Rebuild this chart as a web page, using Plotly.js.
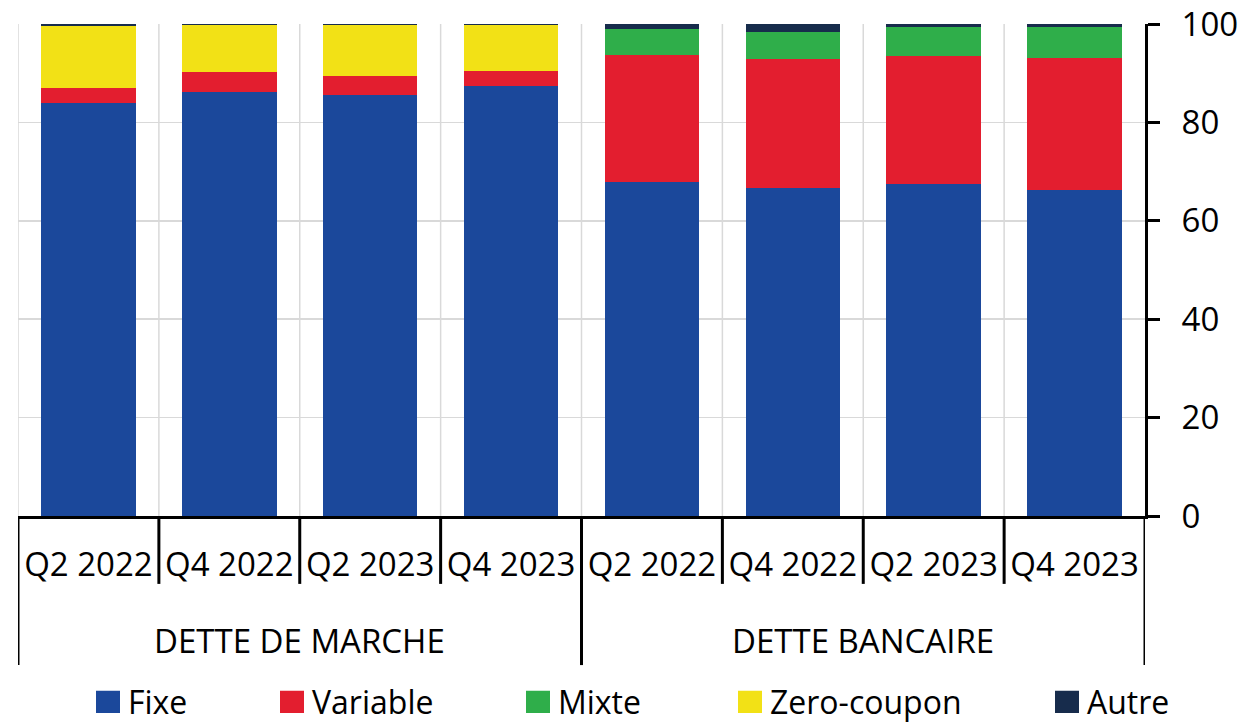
<!DOCTYPE html>
<html><head><meta charset="utf-8">
<script src="https://cdn.plot.ly/plotly-3.0.1.min.js"></script>
<style>
html,body{margin:0;padding:0;background:#fff;}
#chart{width:1241px;height:722px;}
</style>
</head><body><div id="chart"></div>
<script>
// ---- data ----
const quarters = ["Q2 2022", "Q4 2022", "Q2 2023", "Q4 2023"];
const groups = ["DETTE DE MARCHE", "DETTE BANCAIRE"];
const seriesNames = ["Fixe", "Variable", "Mixte", "Zero-coupon", "Autre"];
const fixe       = [83.9, 86.2, 85.5, 87.4, 67.9, 66.7, 67.4, 66.2];
const variable   = [3.0, 4.0, 3.9, 3.1, 25.7, 26.2, 26.0, 26.8];
const mixte      = [0, 0, 0, 0, 5.3, 5.5, 6.0, 6.3];
const zeroCoupon = [12.6, 9.5, 10.3, 9.2, 0, 0, 0, 0];
const autre      = [0.5, 0.3, 0.3, 0.3, 1.1, 1.6, 0.6, 0.7];
const yTicks = [0, 20, 40, 60, 80, 100];

// ---- styling ----
const colors = ["#1b489b", "#e31e2f", "#2fae4a", "#f2e116", "#172c4c"];
const FONT = "Open Sans, Noto Sans, sans-serif";
const FS = 33;

const nQ = quarters.length;
const xIdx = fixe.map((_, i) => i);
const tickText = groups.flatMap(() => quarters);
const seriesValues = [fixe, variable, mixte, zeroCoupon, autre];
const legendX = [88, 272, 518, 730, 1047];

const traces = seriesValues.map((vals, k) => ({
  type: "bar",
  name: seriesNames[k],
  x: xIdx,
  y: vals,
  width: 0.67,
  marker: {color: colors[k], line: {width: 0}},
  legend: k === 0 ? "legend" : "legend" + (k + 1),
  hoverinfo: "skip"
}));

const shapes = [];
for (let b = 0; b < xIdx.length; b++) {
  shapes.push({type: "line", layer: "below", xref: "x", yref: "paper",
    x0: b - 0.5, x1: b - 0.5, y0: 0, y1: 1, line: {color: "#d9d9d9", width: 1.5}});
}
for (let b = 0; b <= xIdx.length; b++) {
  const isGroup = b % nQ === 0;
  shapes.push({type: "line", layer: "above", xref: "x", yref: "paper",
    x0: b - 0.5, x1: b - 0.5, y0: 0, y1: isGroup ? -0.303 : -0.138,
    line: {color: "#000", width: 3}});
}

const annotations = groups.map((g, gi) => ({
  text: g, xref: "x", yref: "paper", x: gi * nQ + (nQ - 1) / 2, y: -0.254,
  yanchor: "middle", xanchor: "center", showarrow: false,
  font: {family: FONT, size: FS, color: "#000"}
}));

const layout = {
  width: 1241, height: 722,
  margin: {l: 18, r: 96, t: 24, b: 206},
  paper_bgcolor: "#fff", plot_bgcolor: "#fff",
  barmode: "stack", bargap: 0.33,
  font: {family: FONT, size: FS, color: "#000"},
  xaxis: {
    range: [-0.5, xIdx.length - 0.5], tickmode: "array", tickvals: xIdx, ticktext: tickText,
    showgrid: false, zeroline: false, showline: true, linecolor: "#000", linewidth: 3,
    ticks: "", ticklabelstandoff: 17, tickangle: 0,
    tickfont: {family: FONT, size: FS, color: "#000"}, fixedrange: true
  },
  yaxis: {
    side: "right", range: [0, 100], tickmode: "array", tickvals: yTicks,
    showgrid: true, gridcolor: "#d9d9d9", gridwidth: 1.5, zeroline: false,
    showline: true, linecolor: "#000", linewidth: 3,
    ticks: "outside", ticklen: 12, tickwidth: 3, tickcolor: "#000",
    ticklabelstandoff: 15,
    tickfont: {family: FONT, size: FS, color: "#000"}, fixedrange: true
  },
  shapes: shapes,
  annotations: annotations,
  showlegend: true
};
seriesNames.forEach((n, k) => {
  const key = k === 0 ? "legend" : "legend" + (k + 1);
  layout[key] = {
    orientation: "h", xref: "container", yref: "container",
    x: legendX[k] / 1241, xanchor: "left", y: 1 - 702 / 722, yanchor: "middle",
    bgcolor: "rgba(0,0,0,0)", borderwidth: 0,
    font: {family: FONT, size: 32, color: "#000"}, itemclick: false, itemdoubleclick: false
  };
});

function enlargeSymbols() {
  const gd = document.getElementById("chart");
  gd.querySelectorAll("g.legendpoints path").forEach(p => {
    const t = p.getAttribute("transform") || "";
    if (t.indexOf("scale") < 0) p.setAttribute("transform", (t + " scale(2,1.85)").trim());
  });
}
const gd = document.getElementById("chart");
const pr = Plotly.newPlot(gd, traces, layout, {staticPlot: true, displayModeBar: false});
enlargeSymbols();
pr.then(() => { enlargeSymbols(); gd.on("plotly_afterplot", enlargeSymbols); });
setTimeout(enlargeSymbols, 50);
setTimeout(enlargeSymbols, 300);
</script>
</body></html>
